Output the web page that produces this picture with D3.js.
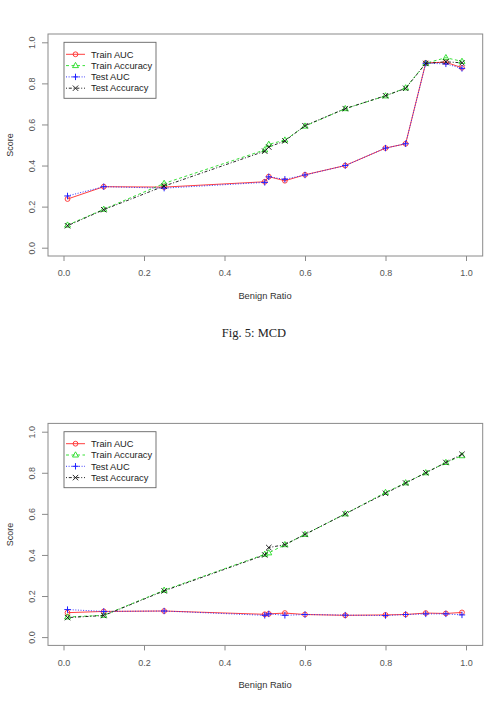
<!DOCTYPE html>
<html>
<head>
<meta charset="utf-8">
<script src="https://cdn.jsdelivr.net/npm/d3@7"></script>
<style>
  body { margin: 0; background: #fff; }
  svg { display: block; }
</style>
</head>
<body>
<div class="figure"></div>
<script>
// benign ratios on the x axis (same for both panels)
const ratios = [0.01, 0.1, 0.25, 0.5, 0.51, 0.55, 0.6, 0.7, 0.8, 0.85, 0.9, 0.95, 0.99];

// top panel (Fig. 5: MCD)
const mcdTrainAUC = [0.237, 0.297, 0.295, 0.321, 0.346, 0.326, 0.355, 0.40, 0.485, 0.506, 0.90, 0.903, 0.876];
const mcdTrainAcc = [0.11, 0.187, 0.313, 0.476, 0.503, 0.524, 0.592, 0.677, 0.739, 0.778, 0.898, 0.925, 0.907];
const mcdTestAUC  = [0.252, 0.297, 0.29, 0.318, 0.345, 0.333, 0.354, 0.40, 0.485, 0.506, 0.898, 0.895, 0.873];
const mcdTestAcc  = [0.107, 0.185, 0.30, 0.47, 0.49, 0.52, 0.594, 0.677, 0.74, 0.776, 0.897, 0.905, 0.90];

// bottom panel
const btmTrainAUC = [0.119, 0.125, 0.127, 0.111, 0.113, 0.117, 0.11, 0.106, 0.108, 0.11, 0.117, 0.115, 0.12];
const btmTrainAcc = [0.098, 0.106, 0.228, 0.403, 0.41, 0.45, 0.50, 0.60, 0.704, 0.751, 0.80, 0.85, 0.883];
const btmTestAUC  = [0.134, 0.125, 0.127, 0.106, 0.113, 0.106, 0.11, 0.107, 0.105, 0.11, 0.113, 0.113, 0.108];
const btmTestAcc  = [0.095, 0.105, 0.225, 0.40, 0.436, 0.45, 0.50, 0.60, 0.70, 0.75, 0.80, 0.85, 0.89];

const seriesNames = ["Train AUC", "Train Accuracy", "Test AUC", "Test Accuracy"];
const xTicks = [0, 0.2, 0.4, 0.6, 0.8, 1.0];
const yTicks = [0, 0.2, 0.4, 0.6, 0.8, 1.0];

// look of each series: colour, dash, marker
const styles = [
  {color: "#ff2a2a", dash: null,      mark: "circle"},
  {color: "#22dd22", dash: "3,2.5",   mark: "triangle"},
  {color: "#2020ff", dash: "1,1.6",   mark: "plus"},
  {color: "#111111", dash: "1,1.8,3,1.8", mark: "cross"}
];

const width = 490, height = 706;
const svg = d3.select('.figure').append('svg')
  .attr('width', width)
  .attr('height', height);

const font = "'Liberation Sans', Arial, sans-serif";

function drawMark(g, kind, x, y, color) {
  const s = 2.7;
  if (kind === "circle") {
    g.append("circle").attr("cx", x).attr("cy", y).attr("r", 2.4)
      .attr("fill", "none").attr("stroke", color).attr("stroke-width", 0.9);
  } else if (kind === "triangle") {
    g.append("path")
      .attr("d", `M${x},${y - 3.2}L${x + 3},${y + 2}L${x - 3},${y + 2}Z`)
      .attr("fill", "none").attr("stroke", color).attr("stroke-width", 0.9);
  } else if (kind === "plus") {
    g.append("path")
      .attr("d", `M${x - s - 0.5},${y}H${x + s + 0.5}M${x},${y - s - 0.5}V${y + s + 0.5}`)
      .attr("stroke", color).attr("stroke-width", 1);
  } else {
    g.append("path")
      .attr("d", `M${x - s},${y - s}L${x + s},${y + s}M${x - s},${y + s}L${x + s},${y - s}`)
      .attr("stroke", color).attr("stroke-width", 0.9);
  }
}

function panel(top, series) {
  // plot box and scales
  const box = {x0: 48, x1: 482.7, y0: top, y1: top + 222};
  const x = d3.scaleLinear().domain([0, 1]).range([63.5, 466]);
  const y = d3.scaleLinear().domain([0, 1]).range([top + 213.7, top + 8.3]);

  const g = svg.append("g");

  g.append("rect")
    .attr("x", box.x0).attr("y", box.y0)
    .attr("width", box.x1 - box.x0).attr("height", box.y1 - box.y0)
    .attr("fill", "none").attr("stroke", "#8a8a8a").attr("stroke-width", 1);

  // axes hang off the box
  const xAxis = g.append("g")
    .attr("transform", `translate(0,${box.y1})`)
    .call(d3.axisBottom(x).tickValues(xTicks).tickFormat(d3.format(".1f")).tickSize(5).tickPadding(9));
  xAxis.select(".domain").remove();
  xAxis.selectAll("line").attr("stroke", "#8a8a8a");
  xAxis.selectAll("text").attr("fill", "#555").attr("font-family", font).attr("font-size", 9);

  const yAxis = g.append("g")
    .attr("transform", `translate(${box.x0},0)`)
    .call(d3.axisLeft(y).tickValues(yTicks).tickFormat(d3.format(".1f")).tickSize(6));
  yAxis.select(".domain").remove();
  yAxis.selectAll("line").attr("stroke", "#8a8a8a");
  // R writes the y labels turned on their side
  yAxis.selectAll(".tick text")
    .attr("fill", "#555").attr("font-family", font).attr("font-size", 9)
    .attr("text-anchor", "middle")
    .attr("x", 0).attr("y", 0).attr("dy", "0.35em")
    .attr("transform", "translate(-16,0) rotate(-90)");

  g.append("text")
    .attr("transform", `translate(10,${top + 111}) rotate(-90)`)
    .attr("text-anchor", "middle").attr("dy", "0.35em")
    .attr("fill", "#333").attr("font-family", font).attr("font-size", 9)
    .text("Score");

  g.append("text")
    .attr("x", 265).attr("y", top + 264.5)
    .attr("text-anchor", "middle")
    .attr("fill", "#333").attr("font-family", font).attr("font-size", 9.3)
    .text("Benign Ratio");

  // lines and markers
  const line = d3.line().x((d, i) => x(ratios[i])).y(d => y(d));
  series.forEach((vals, k) => {
    const st = styles[k];
    g.append("path")
      .attr("d", line(vals))
      .attr("fill", "none")
      .attr("stroke", st.color)
      .attr("stroke-width", 0.9)
      .attr("stroke-dasharray", st.dash);
    vals.forEach((v, i) => drawMark(g, st.mark, x(ratios[i]), y(v), st.color));
  });

  // legend
  const lg = g.append("g");
  lg.append("rect")
    .attr("x", 64).attr("y", top + 8.3)
    .attr("width", 92).attr("height", 56)
    .attr("fill", "#fff").attr("stroke", "#666").attr("stroke-width", 0.9);
  seriesNames.forEach((name, k) => {
    const st = styles[k];
    const ly = top + 20.3 + k * 11.3;
    lg.append("line")
      .attr("x1", 66).attr("x2", 85).attr("y1", ly).attr("y2", ly)
      .attr("stroke", st.color).attr("stroke-width", 0.9)
      .attr("stroke-dasharray", st.dash);
    drawMark(lg, st.mark, 75.5, ly, st.color);
    lg.append("text")
      .attr("x", 91).attr("y", ly).attr("dy", "0.35em")
      .attr("fill", "#222").attr("font-family", font).attr("font-size", 9.3)
      .text(name);
  });
}

panel(34, [mcdTrainAUC, mcdTrainAcc, mcdTestAUC, mcdTestAcc]);
panel(423.4, [btmTrainAUC, btmTrainAcc, btmTestAUC, btmTestAcc]);

svg.append("text")
  .attr("x", 254).attr("y", 337)
  .attr("text-anchor", "middle")
  .attr("fill", "#222")
  .attr("font-family", "'Liberation Serif', 'DejaVu Serif', serif")
  .attr("font-size", 12.5)
  .text("Fig. 5: MCD");
</script>
</body>
</html>
